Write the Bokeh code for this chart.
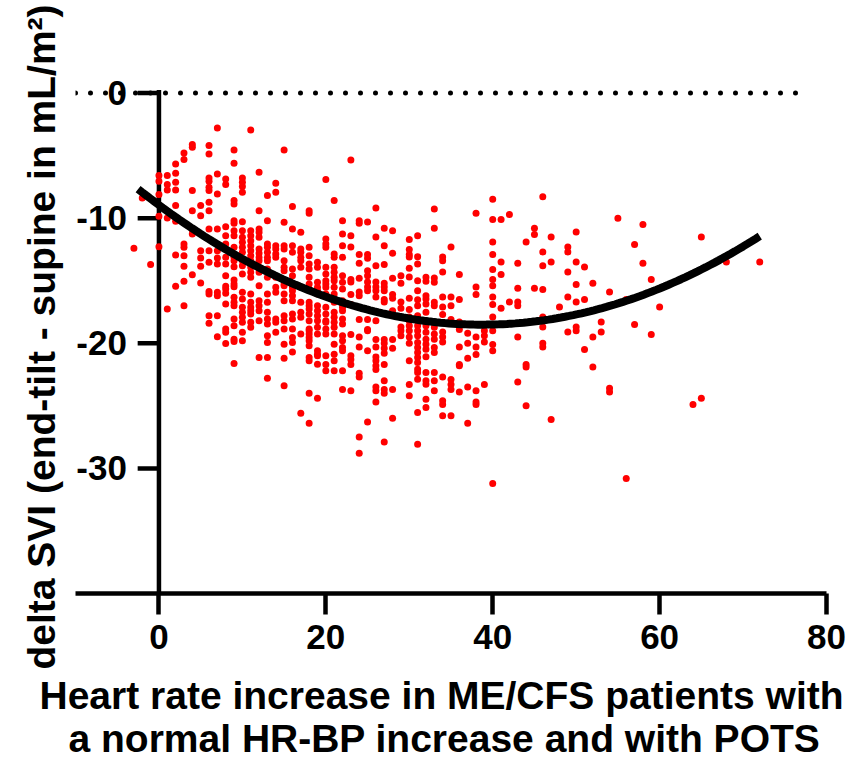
from bokeh.plotting import figure
from bokeh.models import Range1d, FixedTicker, Title
from bokeh.core.properties import value
from bokeh.embed import file_html
from bokeh.resources import INLINE

FONT = "Liberation Sans"

# Heart rate increase (bpm, whole numbers) and, for each, the patients'
# change in stroke volume index (end-tilt minus supine, mL/m2)
hr_values = list(range(-3, 61)) + [64, 65, 68, 72]
delta_svi_by_hr = [
    [-12.4],                                                   # -3
    [-8.4],                                                    # -2
    [-13.7],                                                   # -1
    [-6.6, -7.05, -8.12, -9.85, -12.28],                       # 0
    [-6.6, -7.32, -7.75, -9.99, -17.27],                       # 1
    [-5.67, -6.41, -7.13, -7.75, -9.0, -10.25, -12.95, -15.45],
    [-4.79, -5.32, -12.07, -12.33, -13.0, -13.85, -15.05, -17.0],
    [-4.12, -4.33, -7.8, -9.4, -10.92, -11.27, -14.52],
    [-9.0, -9.8, -12.6, -13.19, -13.85, -15.19],               # 5
    [-4.2, -4.87, -6.79, -7.05, -7.53, -7.8, -8.73, -9.4, -10.87, -12.6,
     -13.53, -15.86, -16.07, -17.8, -18.41],
    [-2.79, -6.47, -8.07, -10.87, -12.6, -13.19, -13.67, -15.93, -16.2,
     -17.8, -19.48],
    [-6.87, -7.32, -10.68, -11.4, -12.07, -13.13, -13.67, -14.6, -15.45,
     -15.67, -16.01, -16.87, -18.87, -19.13, -20.02],
    [-4.55, -5.61, -8.6, -8.87, -10.2, -10.41, -11.0, -11.4, -12.33, -13.13,
     -13.4, -13.88, -14.95, -15.27, -15.48, -16.33, -16.73, -17.0, -18.07,
     -18.6, -19.67, -19.86, -21.62],
    [-6.79, -7.13, -7.48, -7.93, -10.28, -11.0, -11.53, -11.93, -12.33,
     -12.73, -13.4, -13.8, -14.47, -15.93, -16.47, -17.13, -17.53, -17.93,
     -18.33, -19.13, -19.8],                                   # 10
    [-2.95, -11.0, -11.4, -11.8, -12.2, -12.6, -13.0, -13.4, -13.93, -14.33,
     -14.73, -16.07, -16.73, -17.13, -17.4, -17.67, -18.33, -18.73],
    [-6.33, -9.4, -10.87, -11.13, -11.53, -12.47, -12.81, -13.13, -13.4,
     -13.93, -14.33, -15.4, -16.6, -17.0, -17.4, -18.2, -21.14],
    [-8.2, -10.2, -12.07, -12.33, -12.73, -13.13, -13.4, -14.07, -14.73,
     -16.07, -16.73, -17.53, -18.07, -18.47, -19.4, -19.93, -21.14, -22.8],
    [-7.21, -7.93, -12.2, -12.47, -12.87, -13.13, -14.73, -15.53, -15.93,
     -18.07, -18.33, -19.13],
    [-4.55, -10.33, -12.2, -12.47, -13.4, -13.93, -14.2, -15.27, -15.4,
     -16.07, -16.6, -17.8, -18.2, -18.87, -20.07, -21.19, -23.4],   # 15
    [-9.08, -10.87, -12.2, -12.73, -14.07, -14.6, -15.53, -15.8, -16.2,
     -16.6, -17.67, -18.07, -18.87, -19.53, -19.93, -20.7],
    [-11.13, -12.47, -12.73, -13.13, -13.4, -13.93, -15.53, -16.73, -17.53,
     -17.93, -19.27, -25.6],
    [-9.4, -9.61, -12.33, -13.0, -13.67, -14.07, -14.73, -15.27, -15.67,
     -16.73, -17.0, -17.27, -17.67, -18.2, -18.87, -19.0, -19.27, -19.53,
     -19.8, -20.2, -21.14, -21.4, -24.0, -26.4],
    [-13.53, -13.93, -15.13, -15.53, -15.8, -16.07, -17.0, -17.4, -17.8,
     -18.2, -18.73, -19.27, -20.6, -20.87, -21.0, -21.67, -24.4],
    [-6.92, -11.67, -12.07, -12.33, -13.93, -14.47, -15.0, -15.27, -15.53,
     -16.07, -17.13, -17.67, -18.2, -18.33, -18.87, -19.27, -21.0, -21.7,
     -22.2],                                                   # 20
    [-8.6, -12.87, -13.13, -13.93, -14.33, -14.73, -15.0, -15.53, -16.07,
     -16.6, -16.73, -17.53, -17.93, -18.33, -18.73, -19.27, -20.07, -20.87,
     -21.4, -22.2],
    [-10.2, -11.27, -12.2, -13.13, -14.6, -15.13, -15.67, -16.6, -16.87,
     -17.13, -17.4, -18.07, -18.47, -19.4, -19.8, -20.33, -20.6, -22.2, -23.7],
    [-5.35, -11.4, -12.3, -14.9, -15.1, -16.1, -16.9, -19.3, -21.0, -21.3,
     -21.7, -23.8],
    [-10.2, -10.4, -12.9, -13.6, -14.8, -15.9, -16.2, -18.1, -19.5, -20.3,
     -22.4, -22.7, -27.5, -28.8],
    [-10.3, -12.9, -13.2, -14.2, -14.6, -15.1, -15.5, -15.8, -18.1, -18.9,
     -19.0, -20.6, -26.3],                                     # 25
    [-9.2, -11.5, -13.8, -15.1, -15.5, -15.8, -16.3, -18.2, -19.7, -20.3,
     -21.1, -21.4, -21.8, -22.1, -23.5, -23.8, -24.7],
    [-10.8, -12.2, -13.7, -15.2, -15.5, -15.8, -16.5, -16.7, -19.7, -20.0,
     -20.4, -20.8, -21.7, -23.0, -23.7, -24.0, -27.9],
    [-11.0, -12.8, -14.8, -16.1, -16.4, -17.4, -19.7, -20.4, -23.7, -26.0],
    [-14.6, -15.2, -16.7, -17.2, -18.7, -19.0, -19.4],
    [-11.7, -12.5, -12.9, -13.1, -14.0, -14.7, -16.4, -17.3, -17.9, -18.2,
     -18.6, -19.0, -19.5, -20.0, -21.4, -23.3, -24.2],        # 30
    [-11.4, -13.08, -13.67, -15.0, -15.8, -16.52, -17.0, -17.8, -18.2, -18.6,
     -19.0, -19.4, -19.93, -20.33, -20.73, -21.13, -21.53, -22.07, -22.33,
     -22.87, -25.53, -28.07],
    [-14.73, -15.05, -16.2, -16.47, -16.87, -17.53, -18.6, -19.13, -19.67,
     -20.07, -20.47, -21.08, -22.33, -23.0, -23.27, -24.47, -25.13],
    [-9.27, -10.81, -14.79, -15.13, -16.73, -17.0, -18.73, -19.27, -19.67,
     -20.33, -20.73, -22.33, -23.0, -23.8],
    [-13.1, -13.4, -14.3, -16.3, -17.1, -17.7, -19.1, -19.5, -19.9, -22.7,
     -24.6, -24.9, -25.8],
    [-12.3, -16.3, -17.0, -18.1, -22.9, -23.3, -23.7, -25.8],  # 35
    [-14.5, -16.5, -18.3, -18.9, -20.3, -21.7, -21.8, -23.9],
    [-19.2, -20.0, -21.2, -23.5, -26.4],
    [-9.6, -15.5, -16.1, -19.5, -20.3, -20.9, -23.8, -24.7, -24.9],
    [-19.0, -19.4, -19.9, -23.3],
    [-8.5, -10.1, -11.9, -12.9, -14.1, -14.9, -15.4, -16.3, -16.9, -17.9,
     -19.0, -20.1, -20.6, -31.2],                              # 40
    [-10.1, -13.5, -14.5, -17.2],
    [-9.7, -16.7],
    [-13.6, -15.6, -16.7, -17.0, -19.5, -23.1],
    [-11.9, -21.7, -21.9, -25.0],
    [-10.8, -11.3, -15.6],                                     # 45
    [-8.3, -12.7, -13.8, -15.7, -17.9, -18.7, -20.0, -20.3],
    [-11.5, -13.5, -26.1],
    [-17.1],
    [-12.3, -12.7, -14.3, -16.3, -19.1],
    [-11.1, -13.5, -15.3, -16.7, -18.7, -19.0],                # 50
    [-13.9, -16.5, -20.5],
    [-15.2, -19.5, -21.9],
    [-18.3, -19.1],
    [-15.9, -23.6, -23.9],
    [-10.0],                                                   # 55
    [-16.5, -30.8],
    [-12.1, -18.5],
    [-10.5, -13.6],
    [-14.9, -19.3],
    [-17.1],                                                   # 60
    [-24.9],                                                   # 64
    [-11.5, -24.4],                                            # 65
    [-13.5],                                                   # 68
    [-13.5],                                                   # 72
]

# quadratic fit: y = c0 + c1*x + c2*x^2, drawn over the fitted x span
fit_coef = [-8.95, -0.494, 0.00638]
fit_x_span = [-2.5, 72.0]

x_ticks = [0, 20, 40, 60, 80]
y_ticks = [0, -10, -20, -30]
y_tick_labels = ["0", "-10", "-20", "-30"]

x_title_lines = ["Heart rate increase in ME/CFS patients with",
                 "a normal HR-BP increase and with POTS"]
y_title = "delta SVI (end-tilt - supine in mL/m²)"

hr_increase = []
delta_svi = []
for hr, group in zip(hr_values, delta_svi_by_hr):
    hr_increase.extend([hr] * len(group))
    delta_svi.extend(group)

X0, X1 = -10, 80
Y0, Y1 = -40, 1

p = figure(
    width=849, height=762,
    x_range=Range1d(X0, X1), y_range=Range1d(Y0, Y1),
    output_backend="svg", toolbar_location=None,
    y_axis_location=None,
    min_border_left=75, min_border_right=23,
    min_border_top=80, min_border_bottom=169,
)
p.grid.visible = False
p.outline_line_color = None
p.background_fill_color = "white"
p.border_fill_color = "white"

# x axis along the bottom of the frame
xa = p.xaxis[0]
xa.ticker = FixedTicker(ticks=x_ticks)
xa.axis_line_width = 4.5
xa.major_tick_line_width = 4.5
xa.major_tick_out = 21
xa.major_tick_in = 0
xa.minor_tick_line_color = None
xa.major_label_text_font = FONT
xa.major_label_text_font_style = "bold"
xa.major_label_text_font_size = "35px"
xa.major_label_text_color = "black"
xa.major_label_standoff = 10

title_style = dict(text_font=FONT, text_font_style="bold", text_font_size="39px",
                   text_color="black", text_line_height=1.0)

# two-line x title below the tick labels, each line placed from the frame's left edge
for line, shift, gap in zip(x_title_lines, [-36, -7], [40, -46]):
    p.add_layout(Title(text=line, align="left", offset=shift, standoff=gap,
                       vertical_align="bottom", **title_style), "below")

# rotated y title left of the tick labels
p.add_layout(Title(text=y_title, align="center", standoff=26,
                   vertical_align="bottom", **title_style), "left")

# y axis drawn at x = 0
n = len(y_ticks)
p.segment(x0=[0], y0=[Y0], x1=[0], y1=[0.25], line_width=4.5, line_color="black")
p.segment(x0=[-2.55] * n, y0=y_ticks, x1=[0] * n, y1=y_ticks, line_width=4.5, line_color="black")
p.text(x=[0] * n, y=y_ticks, text=y_tick_labels, x_offset=-32,
       text_align="right", text_baseline="middle",
       text_font=value(FONT), text_font_style="bold", text_font_size="35px", text_color="black")

# dotted reference line at zero
p.line(x=[X0, 78], y=[0, 0], line_width=5, line_color="black", line_dash="0 15", line_cap="round")

# individual patients
p.scatter(hr_increase, delta_svi, size=7, fill_color="#FF0000", line_color=None)

# quadratic regression curve
steps = 150
fx = [fit_x_span[0] + (fit_x_span[1] - fit_x_span[0]) * i / steps for i in range(steps + 1)]
fy = [fit_coef[0] + fit_coef[1] * v + fit_coef[2] * v * v for v in fx]
p.line(fx, fy, line_width=8, line_color="black")

open("out.html", "w").write(file_html(p, INLINE))
